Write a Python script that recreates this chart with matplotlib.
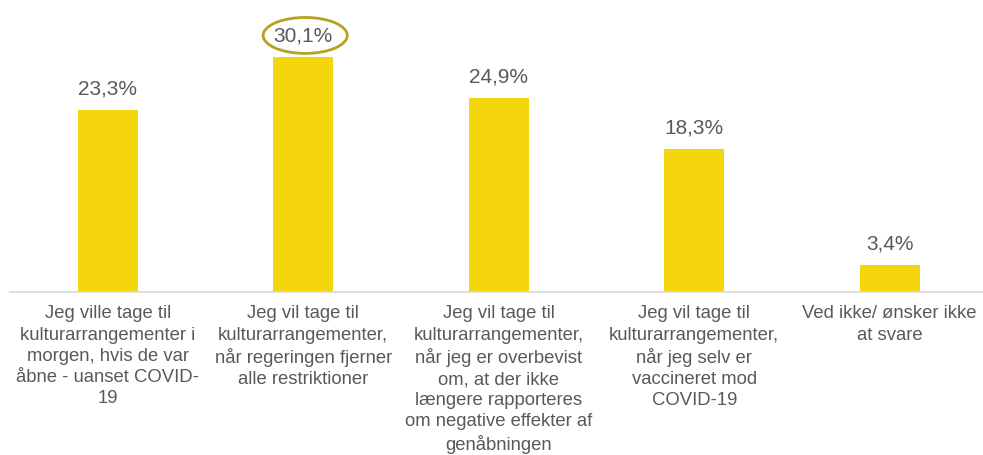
import matplotlib.pyplot as plt
from matplotlib.patches import Ellipse

categories = [
    "Jeg ville tage til\nkulturarrangementer i\nmorgen, hvis de var\nåbne - uanset COVID-\n19",
    "Jeg vil tage til\nkulturarrangementer,\nnår regeringen fjerner\nalle restriktioner",
    "Jeg vil tage til\nkulturarrangementer,\nnår jeg er overbevist\nom, at der ikke\nlængere rapporteres\nom negative effekter af\ngenåbningen",
    "Jeg vil tage til\nkulturarrangementer,\nnår jeg selv er\nvaccineret mod\nCOVID-19",
    "Ved ikke/ ønsker ikke\nat svare",
]
values = [23.3, 30.1, 24.9, 18.3, 3.4]
highlight = 1

plt.rcParams['font.family'] = ['Liberation Sans', 'DejaVu Sans']
grey = '#595959'

fig = plt.figure(figsize=(9.83, 4.56), dpi=100)
ax = fig.add_axes([10 / 983, 163 / 456, 973 / 983, 293 / 456])

x = range(len(values))
ax.bar(x, values, width=0.307, color='#F5D50C')
ax.set_xlim(-0.5, -0.5 + 973 / 195.5)
ax.set_ylim(0, 293 / 7.81)

for i, v in enumerate(values):
    ax.annotate(f"{v:.1f}%".replace('.', ','), (i, v), xytext=(0, 9),
                textcoords='offset points', ha='center', va='bottom',
                fontsize=15, color=grey)

# ring around the highest value
ax.add_patch(Ellipse((highlight + 0.01, values[highlight] + 2.75), 0.43, 4.6,
                     fill=False, edgecolor='#B5A21E', linewidth=2, clip_on=False))

ax.set_xticks(list(x))
ax.set_xticklabels(categories, fontsize=13.3, color=grey, linespacing=1.31)
ax.tick_params(axis='x', length=0, pad=9)
ax.set_yticks([])
for s in ['top', 'right', 'left']:
    ax.spines[s].set_visible(False)
ax.spines['bottom'].set_color('#D9D9D9')
ax.spines['bottom'].set_linewidth(1.2)

fig.savefig('out.png', dpi=100)
